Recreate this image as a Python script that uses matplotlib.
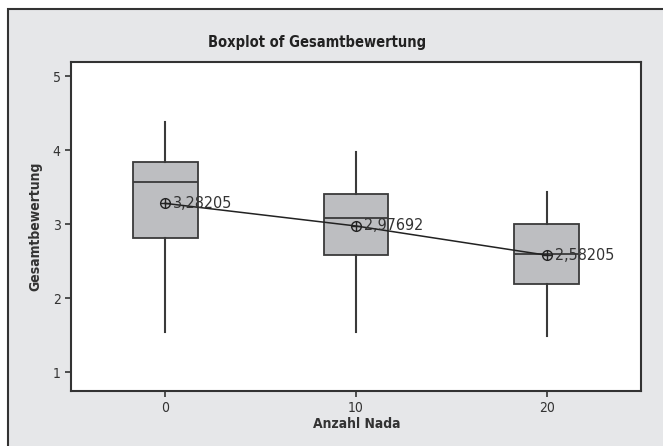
import matplotlib
matplotlib.use("Agg")
import matplotlib.pyplot as plt
from matplotlib.patches import Rectangle

# Data
groups = [0, 10, 20]
whisker_low = [1.55, 1.55, 1.49]
q1 = [2.81, 2.58, 2.19]
medians = [3.57, 3.09, 2.60]
q3 = [3.84, 3.41, 3.01]
whisker_high = [4.38, 3.97, 3.43]
means = [3.28205, 2.97692, 2.58205]
mean_labels = ["3,28205", "2,97692", "2,58205"]
x_ticks = [0, 10, 20]
y_ticks = [1, 2, 3, 4, 5]

FONT = dict(family="DejaVu Sans", stretch="condensed")

W, H = 663, 446
fig = plt.figure(figsize=(W / 100, H / 100), dpi=100, facecolor="white")

# grey chart frame with dark border (top/left visible)
bg = fig.add_axes([0, 0, 1, 1], zorder=-10)
bg.set_axis_off()
bg.set_xlim(0, W)
bg.set_ylim(H, 0)
bg.add_patch(Rectangle((8, 9), W + 20, H + 20, facecolor="#e6e7e9", edgecolor="#333333",
                       linewidth=1.5))

ax = fig.add_axes([71 / W, (H - 391) / H, (641 - 71) / W, (391 - 62) / H], zorder=1)
ax.set_facecolor("white")

stats = []
for i in range(len(groups)):
    stats.append(dict(whislo=whisker_low[i], q1=q1[i], med=medians[i], q3=q3[i],
                      whishi=whisker_high[i], fliers=[], mean=means[i]))

ax.bxp(stats, positions=groups, widths=3.4, patch_artist=True, showcaps=False,
       showfliers=False, showmeans=False,
       boxprops=dict(facecolor="#bdbec1", edgecolor="#3a3a3a", linewidth=1.3),
       medianprops=dict(color="#3a3a3a", linewidth=1.3),
       whiskerprops=dict(color="#3a3a3a", linewidth=1.5),
       manage_ticks=False)

ax.plot(groups, means, color="#222222", linewidth=1.1, zorder=4)
ax.plot(groups, means, linestyle="none", marker="o", markersize=7, markerfacecolor="none",
        markeredgecolor="#222222", markeredgewidth=1.0, zorder=5)
ax.plot(groups, means, linestyle="none", marker="+", markersize=7,
        markeredgecolor="#222222", markeredgewidth=1.0, zorder=5)
for x, m, lab in zip(groups, means, mean_labels):
    ax.text(x + 0.4, m, lab, fontsize=11.5, color="#333333", va="center", ha="left",
            zorder=6, **FONT)

ax.set_xlim(-4.93, 24.93)
ax.set_ylim(0.75, 5.19)
ax.set_xticks(x_ticks)
ax.set_yticks(y_ticks)
ax.tick_params(axis="both", direction="out", length=4, width=1.2, color="#333333",
               labelsize=10, labelcolor="#333333")
for lab in ax.get_xticklabels() + ax.get_yticklabels():
    lab.set_family("DejaVu Sans")
    lab.set_stretch("condensed")
for s in ax.spines.values():
    s.set_color("#333333")
    s.set_linewidth(1.5)

fig.text(317 / W, 1 - 42 / H, "Boxplot of Gesamtbewertung", ha="center", va="center",
         fontsize=10.5, fontweight="bold", color="#222222", **FONT)
fig.text(357 / W, 1 - 424 / H, "Anzahl Nada", ha="center", va="center",
         fontsize=10, fontweight="bold", color="#333333", **FONT)
fig.text(35 / W, 1 - 226 / H, "Gesamtbewertung", ha="center", va="center", rotation=90,
         fontsize=10, fontweight="bold", color="#333333", **FONT)

fig.savefig("out.png", dpi=100, facecolor=fig.get_facecolor())
